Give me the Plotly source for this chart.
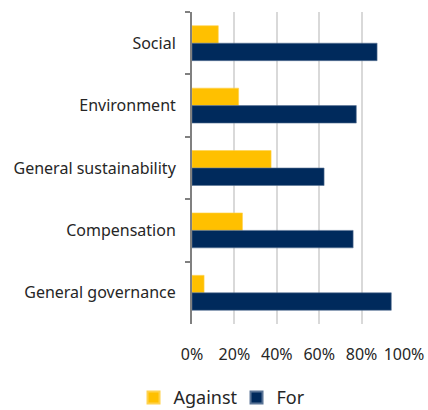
import plotly.graph_objects as go

# Vote outcomes by proposal category (share of votes)
categories = ["Social", "Environment", "General sustainability", "Compensation", "General governance"]
against = [0.124, 0.22, 0.373, 0.238, 0.057]
for_votes = [0.873, 0.775, 0.623, 0.76, 0.94]
x_ticks = [0, 0.2, 0.4, 0.6, 0.8, 1.0]
x_tick_labels = ["0%", "20%", "40%", "60%", "80%", "100%"]

FONT = "Noto Sans, Open Sans, sans-serif"

fig = go.Figure()
fig.add_trace(go.Bar(
    y=categories, x=against, name="Against", orientation="h",
    marker=dict(color="#FFC000", line=dict(color="#FFD24D", width=0.6)),
))
fig.add_trace(go.Bar(
    y=categories, x=for_votes, name="For", orientation="h",
    marker=dict(color="#002A5C", line=dict(color="#5A7496", width=0.6)),
))

fig.update_layout(
    width=428, height=410,
    margin=dict(l=192, r=24, t=12, b=86, autoexpand=False),
    barmode="group", bargap=0.44, bargroupgap=0,
    plot_bgcolor="white", paper_bgcolor="white",
    font=dict(family=FONT, size=16, color="#262626"),
    showlegend=True,
    legend=dict(
        orientation="h", xref="paper", x=0.21, xanchor="center",
        yref="container", y=0.03, yanchor="middle",
        font=dict(size=18, color="#262626"),
        itemsizing="constant", entrywidth=58,
    ),
    xaxis=dict(
        range=[0, 1.0], tickvals=x_ticks, ticktext=x_tick_labels,
        showgrid=True, gridcolor="#D9D9D9", gridwidth=1.5,
        zeroline=False, showline=False, ticks="",
        ticklabelstandoff=19, automargin=False,
        tickfont=dict(size=16),
    ),
    yaxis=dict(
        autorange="reversed", showline=True, linecolor="#808080", linewidth=2,
        ticks="outside", tickson="boundaries", ticklen=5, tickcolor="#808080", tickwidth=2,
        showgrid=False, tickfont=dict(size=16), ticklabelstandoff=11,
        automargin=False,
    ),
)

fig.write_html("out.html")
